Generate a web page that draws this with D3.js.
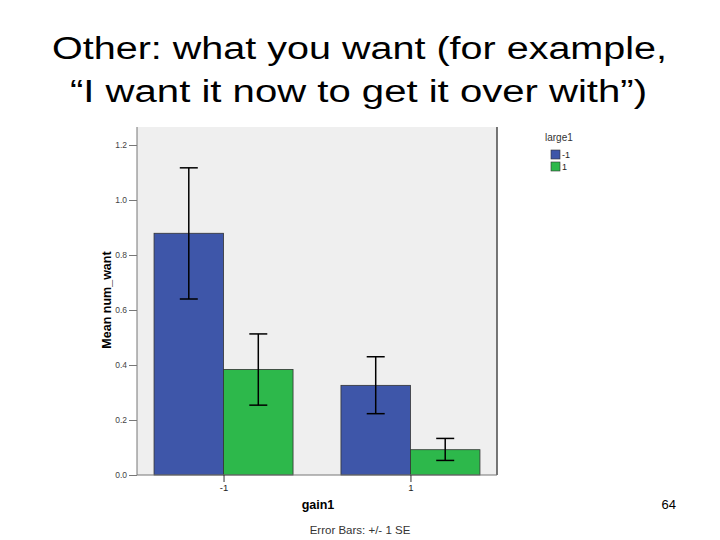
<!DOCTYPE html>
<html>
<head>
<meta charset="utf-8">
<script src="https://cdn.jsdelivr.net/npm/d3@7"></script>
<style>
  body { margin: 0; background: #fff; }
  svg { display: block; font-family: Arial, "Liberation Sans", sans-serif; }
</style>
</head>
<body>
<div id="chart"></div>
<script>
// Data
const gainGroups = ["-1", "1"];
const largeLevels = ["-1", "1"];
const meansLargeNeg = [0.879, 0.326];
const meansLargePos = [0.384, 0.092];
const seLowLargeNeg = [0.640, 0.223];
const seHighLargeNeg = [1.117, 0.430];
const seLowLargePos = [0.254, 0.053];
const seHighLargePos = [0.513, 0.133];
const yTicks = [0.0, 0.2, 0.4, 0.6, 0.8, 1.0, 1.2];
const colors = ["#3e56a9", "#2db84b"];

/*******************************/
/*    Declare the constants    */
/*******************************/
const width = 720;
const height = 540;
const plot = {left: 137, right: 497, top: 127, bottom: 475};

const rows = [];
gainGroups.forEach((g, i) => {
  rows.push({gain: g, large: largeLevels[0], mean: meansLargeNeg[i], lo: seLowLargeNeg[i], hi: seHighLargeNeg[i]});
  rows.push({gain: g, large: largeLevels[1], mean: meansLargePos[i], lo: seLowLargePos[i], hi: seHighLargePos[i]});
});

const svg = d3.select("#chart")
  .append("svg")
    .attr("width", width)
    .attr("height", height);

// Title (the slide text is stretched sideways, so fit it to its width)
const title = svg.append("g")
  .attr("font-size", 31)
  .attr("fill", "#000");
title.append("text")
  .attr("x", 52).attr("y", 59)
  .attr("textLength", 615)
  .attr("lengthAdjust", "spacingAndGlyphs")
  .text("Other: what you want (for example,");
title.append("text")
  .attr("x", 70).attr("y", 102)
  .attr("textLength", 577)
  .attr("lengthAdjust", "spacingAndGlyphs")
  .text("\u201CI want it now to get it over with\u201D)");

/*********************************/
/*    Declare scales             */
/*********************************/
const xScale = d3.scalePoint()
  .domain(gainGroups)
  .range([plot.left, plot.right])
  .padding(0.463);

const barW = 69.5;
const xSub = d3.scaleBand()
  .domain(largeLevels)
  .range([-barW, barW]);

const yScale = d3.scaleLinear()
  .domain([0, 1.2])
  .range([plot.bottom, plot.bottom - 330]);

const color = d3.scaleOrdinal().domain(largeLevels).range(colors);

// Plot background
svg.append("rect")
  .attr("x", plot.left)
  .attr("y", plot.top)
  .attr("width", plot.right - plot.left)
  .attr("height", plot.bottom - plot.top)
  .attr("fill", "#efefef");

svg.append("line")
  .attr("x1", plot.right).attr("x2", plot.right)
  .attr("y1", plot.top).attr("y2", plot.bottom)
  .attr("stroke", "#4a4a4a")
  .attr("stroke-width", 1.5);

// Bars
svg.append("g")
  .selectAll("rect")
  .data(rows)
  .join("rect")
    .attr("x", d => xScale(d.gain) + xSub(d.large))
    .attr("y", d => yScale(d.mean))
    .attr("width", xSub.bandwidth())
    .attr("height", d => yScale(0) - yScale(d.mean))
    .attr("fill", d => color(d.large))
    .attr("stroke", "#333")
    .attr("stroke-width", 0.8);

// Error bars
const err = svg.append("g")
  .attr("stroke", "#000")
  .attr("stroke-width", 1.5)
  .selectAll("g")
  .data(rows)
  .join("g")
    .attr("transform", d => `translate(${xScale(d.gain) + xSub(d.large) + xSub.bandwidth() / 2}, 0)`);
err.append("line")
  .attr("y1", d => yScale(d.lo)).attr("y2", d => yScale(d.hi));
err.append("line")
  .attr("x1", -9).attr("x2", 9)
  .attr("y1", d => yScale(d.hi)).attr("y2", d => yScale(d.hi));
err.append("line")
  .attr("x1", -9).attr("x2", 9)
  .attr("y1", d => yScale(d.lo)).attr("y2", d => yScale(d.lo));

/*********************************/
/*    Append Axes                */
/*********************************/
const leftAxis = d3.axisLeft(yScale)
  .tickValues(yTicks)
  .tickFormat(d3.format(".1f"))
  .tickSize(8)
  .tickSizeOuter(0)
  .tickPadding(2);
const gy = svg.append("g")
  .attr("transform", `translate(${plot.left}, 0)`)
  .call(leftAxis);
gy.select(".domain").attr("d", `M0,${plot.top}V${plot.bottom}`).attr("stroke", "#777");
gy.selectAll(".tick line").attr("stroke", "#777");
gy.selectAll("text").attr("font-size", 8.5).attr("fill", "#444").attr("font-family", "Arial, sans-serif");

const bottomAxis = d3.axisBottom(xScale)
  .tickSize(7)
  .tickSizeOuter(0)
  .tickPadding(2);
const gx = svg.append("g")
  .attr("transform", `translate(0, ${plot.bottom})`)
  .call(bottomAxis);
gx.select(".domain").attr("d", `M${plot.left},0H${plot.right}`).attr("stroke", "#777");
gx.selectAll(".tick line").attr("stroke", "#333");
gx.selectAll("text").attr("font-size", 9.5).attr("fill", "#222").attr("font-family", "Arial, sans-serif");

// Axis titles
svg.append("text")
  .attr("transform", "translate(111, 300) rotate(-90)")
  .attr("text-anchor", "middle")
  .attr("font-size", 12.5)
  .attr("font-weight", "bold")
  .text("Mean num_want");

svg.append("text")
  .attr("x", 318).attr("y", 509)
  .attr("text-anchor", "middle")
  .attr("font-size", 12.5)
  .attr("font-weight", "bold")
  .text("gain1");

svg.append("text")
  .attr("x", 360).attr("y", 534)
  .attr("text-anchor", "middle")
  .attr("font-size", 11.5)
  .attr("fill", "#333")
  .text("Error Bars: +/- 1 SE");

// Legend
const legend = svg.append("g").attr("transform", "translate(545, 0)");
legend.append("text")
  .attr("x", 0).attr("y", 141)
  .attr("font-size", 10)
  .attr("fill", "#333")
  .text("large1");
legend.selectAll("rect")
  .data(largeLevels)
  .join("rect")
    .attr("x", 6)
    .attr("y", (d, i) => 150 + i * 12)
    .attr("width", 9)
    .attr("height", 9)
    .attr("fill", d => color(d))
    .attr("stroke", "#333")
    .attr("stroke-width", 0.6);
legend.selectAll("text.lbl")
  .data(largeLevels)
  .join("text")
    .attr("class", "lbl")
    .attr("x", 17)
    .attr("y", (d, i) => 158 + i * 12)
    .attr("font-size", 9)
    .attr("fill", "#222")
    .text(d => d);

// Page number
svg.append("text")
  .attr("x", 676).attr("y", 509)
  .attr("text-anchor", "end")
  .attr("font-size", 13)
  .text("64");
</script>
</body>
</html>
